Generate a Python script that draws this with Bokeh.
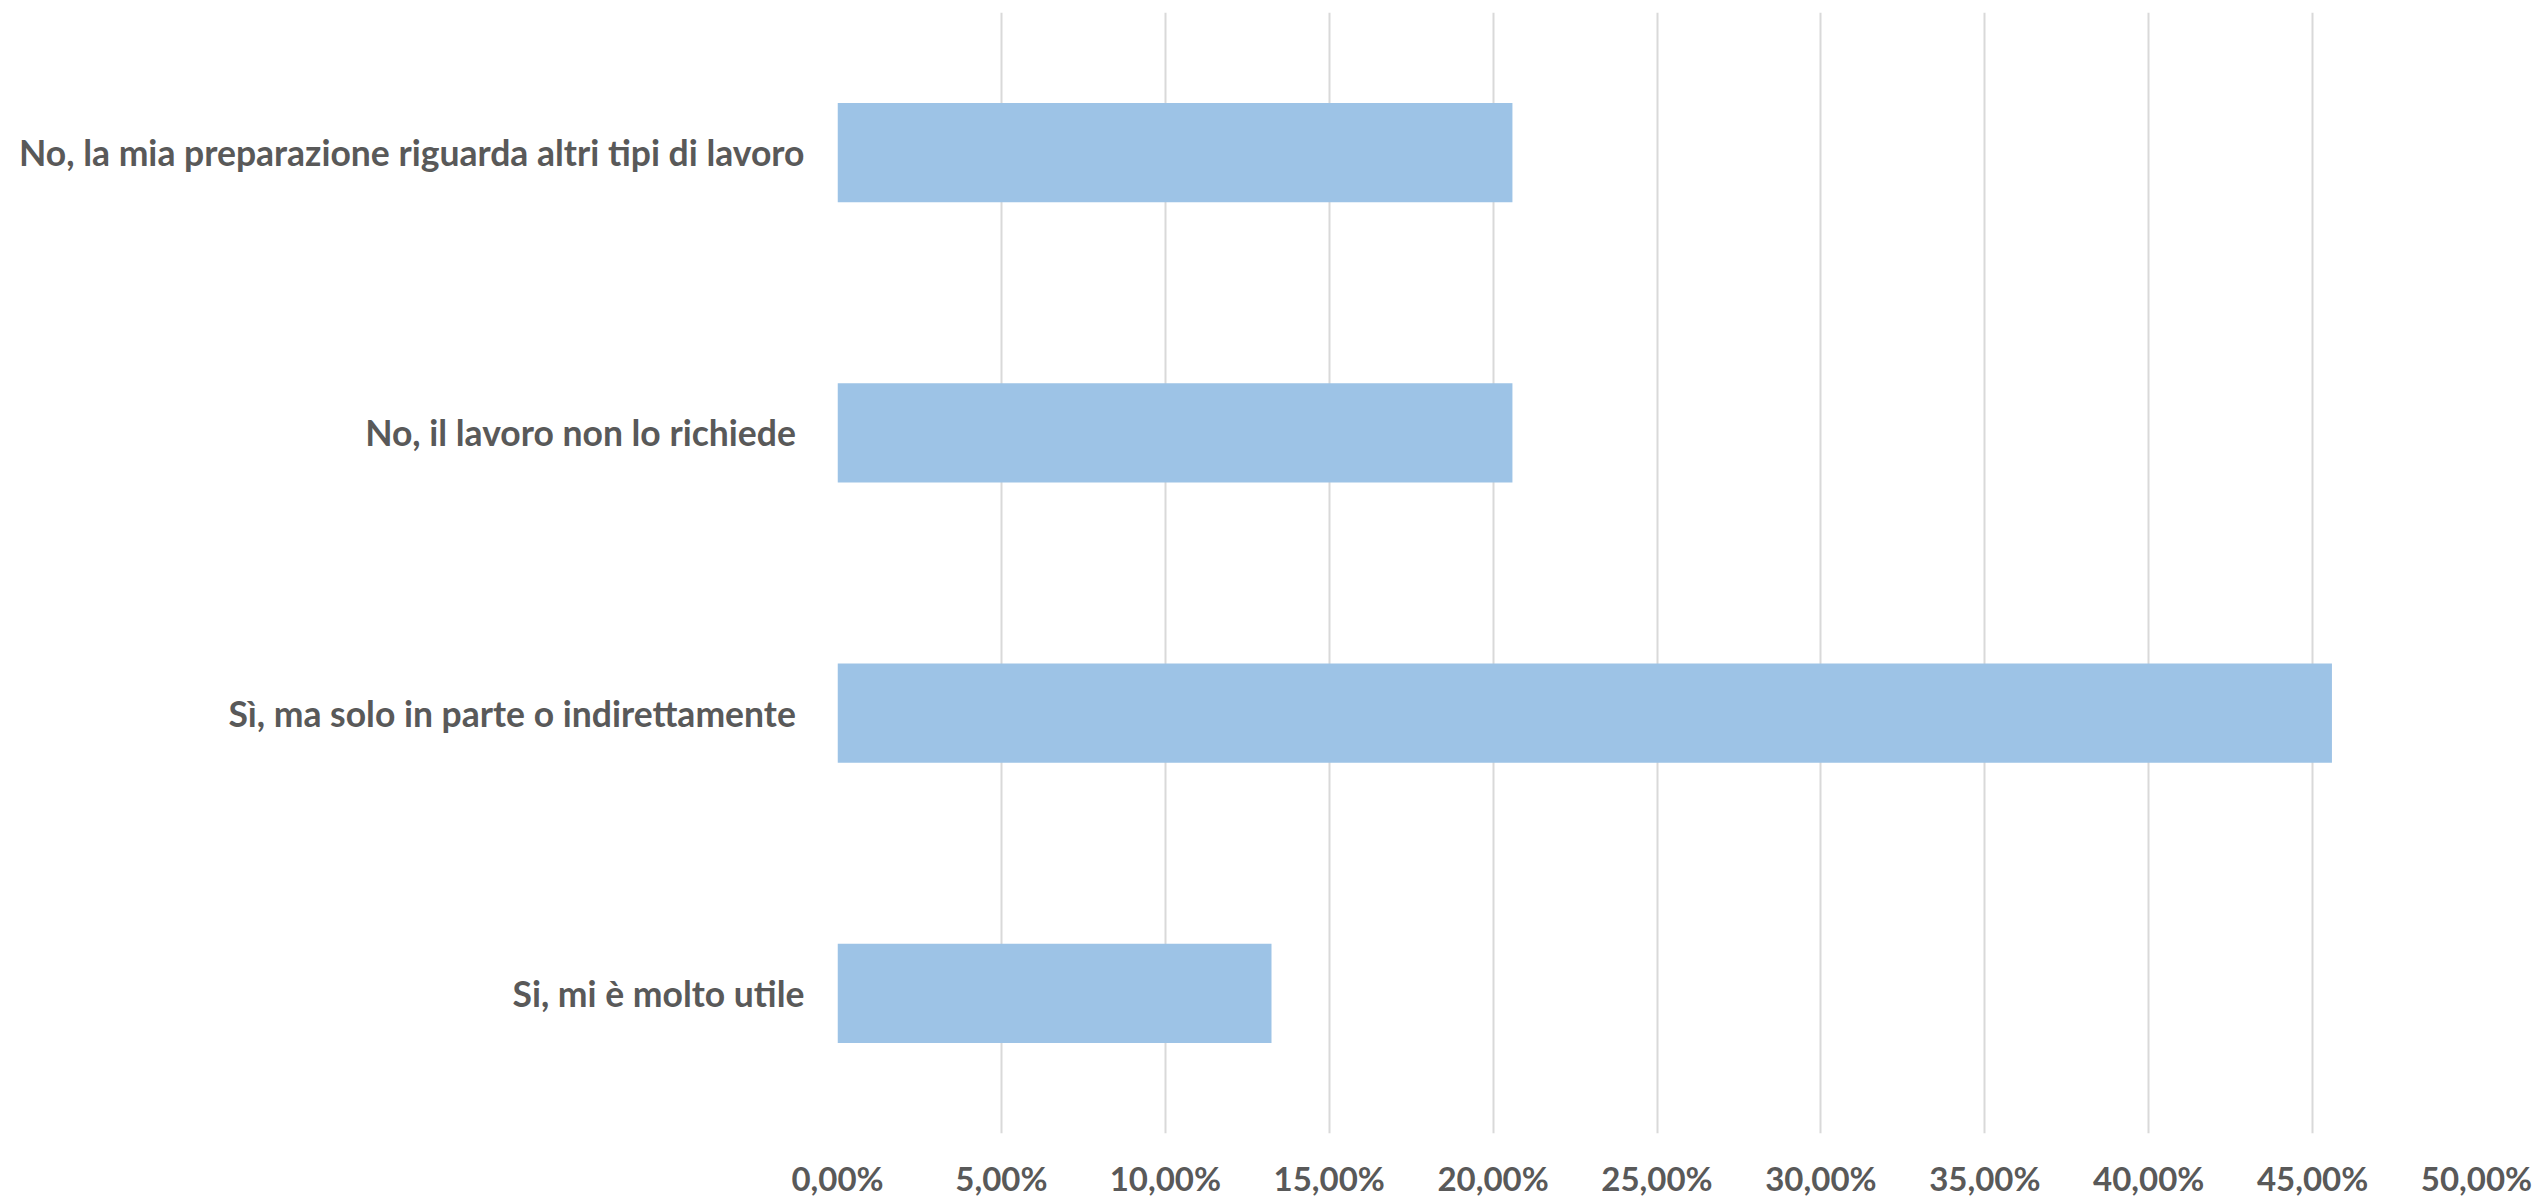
from bokeh.plotting import figure
from bokeh.models import FactorRange, Range1d, FixedTicker, CustomJSTickFormatter
from bokeh.embed import file_html
from bokeh.resources import INLINE

# Data (bottom to top)
categories = [
    "Si, mi è molto utile",
    "Sì, ma solo in parte o indirettamente ",
    "No, il lavoro non lo richiede ",
    "No, la mia preparazione riguarda altri tipi di lavoro",
]
values = [13.24, 45.59, 20.59, 20.59]
x_ticks = [0, 5, 10, 15, 20, 25, 30, 35, 40, 45, 50]

FONT = "Lato"
TEXT_COLOR = "#595959"

p = figure(
    y_range=FactorRange(*categories, range_padding=0),
    x_range=Range1d(0, 50),
    frame_width=1639, frame_height=1121,
    min_border_left=837, min_border_right=66,
    min_border_top=12, min_border_bottom=60,
    output_backend="svg", toolbar_location=None,
    background_fill_color="white", border_fill_color="white",
)
p.outline_line_color = None

p.hbar(y=categories, right=values, left=0, height=0.354,
       fill_color="#9dc3e6", line_color=None)

# x axis
p.xaxis.ticker = FixedTicker(ticks=x_ticks)
p.xaxis.formatter = CustomJSTickFormatter(
    code="return tick.toFixed(2).replace('.', ',') + '%';")
p.xaxis.axis_line_color = None
p.xaxis.major_tick_line_color = None
p.xaxis.minor_tick_line_color = None
p.xaxis.major_label_text_font = FONT
p.xaxis.major_label_text_font_style = "bold"
p.xaxis.major_label_text_font_size = "33px"
p.xaxis.major_label_text_color = TEXT_COLOR
p.xaxis.major_label_standoff = 18

# y axis
p.yaxis.axis_line_color = None
p.yaxis.major_tick_line_color = None
p.yaxis.minor_tick_line_color = None
p.yaxis.major_label_text_font = FONT
p.yaxis.major_label_text_font_style = "bold"
p.yaxis.major_label_text_font_size = "35.5px"
p.yaxis.major_label_text_color = TEXT_COLOR
p.yaxis.major_label_standoff = 27

# grid
p.xgrid.grid_line_color = "#d9d9d9"
p.xgrid.grid_line_width = 2
p.ygrid.grid_line_color = None

open("out.html", "w").write(file_html(p, INLINE))
